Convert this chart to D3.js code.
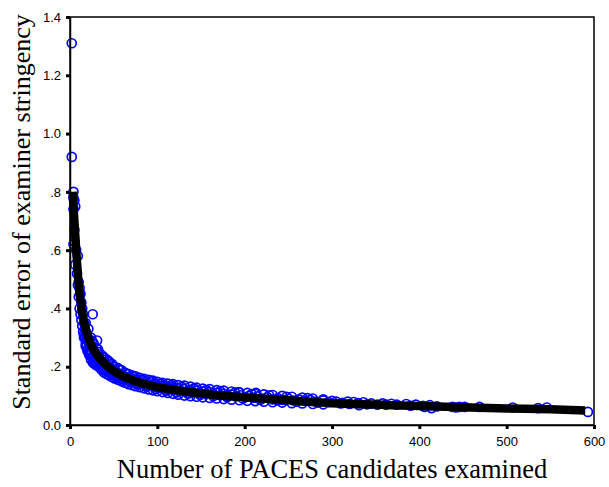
<!DOCTYPE html>
<html>
<head>
<meta charset="utf-8">
<script src="https://cdn.jsdelivr.net/npm/d3@7"></script>
<style>
  body { margin: 0; background: #fff; }
  svg { display: block; }
</style>
</head>
<body>
<script>
const width = 609;
const height = 487;

// examiners: [candidates examined, standard error of stringency]
const examiners = [
  [2,1.31],[2,0.92],[4,0.80],[4,0.78],[5,0.77],[4,0.74],[6,0.75],[5,0.67],[4,0.62],[5,0.63],
  [9,0.58],[7,0.60],[6,0.55],[8,0.52],[10,0.49],[9,0.48],[11,0.47],[12,0.45],[10,0.44],[13,0.42],
  [11,0.40],[14,0.40],[12,0.38],[15,0.38],[13,0.36],[16,0.35],[14,0.34],[17,0.33],[15,0.32],[18,0.32],
  [16,0.31],[19,0.30],[17,0.30],[20,0.29],[18,0.28],[21,0.29],[19,0.27],[22,0.28],[20,0.26],[23,0.26],
  [21,0.25],[24,0.27],[22,0.245],[26,0.38],[25,0.25],[27,0.24],[26,0.23],[28,0.25],[27,0.22],[29,0.23],
  [30,0.22],[31,0.29],[31,0.23],[32,0.21],[33,0.235],[34,0.21],[35,0.22],[36,0.20],[37,0.215],[38,0.195],
  [40,0.21],[40,0.19],[42,0.20],[43,0.185],[45,0.195],[46,0.18],[48,0.19],[49,0.175],[50,0.185],[52,0.17],
  [54,0.18],[55,0.165],[57,0.175],[58,0.16],[60,0.17],[62,0.155],[64,0.165],[66,0.152],[68,0.162],[70,0.148],
  [72,0.158],[74,0.145],[76,0.155],[78,0.142],[80,0.152],[82,0.14],[85,0.148],[87,0.136],[90,0.145],[92,0.134],
  [95,0.14],[97,0.13],[100,0.138],[103,0.127],[106,0.135],[108,0.125],[111,0.132],[114,0.122],[117,0.13],[120,0.12],
  [123,0.127],[126,0.117],[130,0.124],[133,0.115],[137,0.12],[140,0.112],[144,0.118],[148,0.11],[152,0.115],[156,0.108],
  [160,0.113],[164,0.105],[168,0.11],[172,0.103],[176,0.108],[180,0.10],[185,0.105],[190,0.098],[193,0.113],[195,0.102],
  [200,0.095],[205,0.1],[210,0.093],[213,0.11],[215,0.098],[220,0.091],[226,0.095],[232,0.088],[238,0.092],[244,0.086],
  [250,0.09],[256,0.084],[262,0.088],[268,0.083],[275,0.086],[282,0.08],[290,0.084],[296,0.078],[305,0.08],[312,0.076],
  [320,0.072],[325,0.079],[331,0.068],[336,0.078],[345,0.074],[352,0.07],[362,0.07],[368,0.073],[374,0.07],[385,0.072],
  [390,0.066],[396,0.07],[404,0.066],[406,0.062],[412,0.068],[414,0.058],[420,0.064],[438,0.062],[442,0.06],[446,0.062],
  [452,0.062],[469,0.062],[507,0.06],[536,0.058],[546,0.06],[593,0.045],
  // lower edge of the band
  [16,0.30],[18,0.27],[20,0.255],[22,0.24],[24,0.225],[26,0.215],[28,0.21],[30,0.205],[33,0.20],[36,0.19],
  [39,0.18],[42,0.175],[45,0.17],[48,0.165],[51,0.16],[55,0.155],[59,0.15],[63,0.145],[67,0.14],[71,0.137],
  [75,0.133],[80,0.13],[85,0.126],[90,0.122],[95,0.119],[100,0.116],[106,0.113],[112,0.11],[118,0.107],[124,0.104],
  [131,0.101],[138,0.099],[145,0.097],[152,0.095],[160,0.093],[168,0.091],[176,0.089],[185,0.087],[194,0.085],[203,0.083],
  [212,0.082],[222,0.08],[232,0.078],[243,0.077],[254,0.075],[266,0.074],[278,0.072],[290,0.071],
  // upper edge of the band
  [18,0.35],[21,0.33],[24,0.30],[27,0.28],[30,0.265],[33,0.25],[36,0.24],[39,0.23],[42,0.225],[45,0.215],
  [48,0.21],[51,0.20],[55,0.195],[59,0.188],[63,0.18],[67,0.175],[71,0.17],[75,0.167],[80,0.162],[85,0.158],
  [90,0.155],[95,0.152],[100,0.148],[106,0.145],[112,0.142],[118,0.14],[124,0.137],[131,0.135],[138,0.132],[145,0.128],
  [152,0.125],[160,0.123],[168,0.12],[176,0.118],[185,0.115],[194,0.112],[203,0.11],[212,0.108],[222,0.105],[232,0.103],
  [243,0.1],[254,0.097],[266,0.094],[278,0.091],[290,0.088],
  // filling between edges and fit
  [19,0.31],[23,0.245],[25,0.29],[29,0.215],[32,0.26],[35,0.205],[38,0.235],[41,0.185],[44,0.22],[47,0.175],
  [50,0.20],[53,0.165],[57,0.19],[61,0.157],[65,0.175],[69,0.147],[73,0.165],[77,0.14],[83,0.155],[88,0.132],
  [93,0.15],[98,0.124],[104,0.142],[110,0.118],[116,0.137],[122,0.112],[128,0.131],[135,0.107],[142,0.126],[149,0.103],
  [156,0.12],[164,0.099],[172,0.116],[180,0.095],[189,0.111],[198,0.091],[208,0.106],[218,0.087],[228,0.102],[238,0.084],
  [248,0.097],[260,0.08],[272,0.092],[284,0.077],[300,0.083],[310,0.074],[318,0.08],[330,0.075],[340,0.071],[358,0.074]
];

// fitted curve
const fitN  = [3, 5, 8, 10, 12, 15, 20, 25, 30, 40, 50, 60, 70, 80, 100, 120, 150, 175, 200, 250, 300, 350, 400, 450, 500, 550, 590];
const fitSE = [0.80, 0.70, 0.56, 0.48, 0.43, 0.37, 0.31, 0.27, 0.245, 0.21, 0.185, 0.168, 0.155, 0.145, 0.13, 0.12, 0.108, 0.10, 0.095, 0.085, 0.075, 0.07, 0.065, 0.061, 0.057, 0.054, 0.05];

const xTicks = [0, 100, 200, 300, 400, 500, 600];
const yTicks = [0, 0.2, 0.4, 0.6, 0.8, 1.0, 1.2, 1.4];

const margin = {top: 17, right: 15, bottom: 62, left: 70};

const x = d3.scaleLinear().domain([0, 600]).range([margin.left, width - margin.right]);
const y = d3.scaleLinear().domain([0, 1.4]).range([height - margin.bottom, margin.top]);

const fmtY = d => (d > 0 && d < 1) ? d3.format(".1f")(d).slice(1) : d3.format(".1f")(d);

const svg = d3.select("body").append("svg")
  .attr("width", width)
  .attr("height", height);

svg.append("rect")
  .attr("width", width)
  .attr("height", height)
  .attr("fill", "#fff");

// frame
svg.append("rect")
  .attr("x", x(0))
  .attr("y", y(1.4))
  .attr("width", x(600) - x(0))
  .attr("height", y(0) - y(1.4))
  .attr("fill", "none")
  .attr("stroke", "#000")
  .attr("stroke-width", 1.5);

// points
svg.append("g")
  .attr("fill", "none")
  .attr("stroke", "#0000ff")
  .attr("stroke-width", 1.7)
  .selectAll("circle")
  .data(examiners)
  .join("circle")
  .attr("cx", d => x(d[0]))
  .attr("cy", d => y(d[1]))
  .attr("r", 4.5);

// fit line
const line = d3.line()
  .x((d, i) => x(fitN[i]))
  .y(d => y(d))
  .curve(d3.curveMonotoneX);

svg.append("path")
  .datum(fitSE)
  .attr("fill", "none")
  .attr("stroke", "#000")
  .attr("stroke-width", 8.5)
  .attr("d", line);

// axes
const xAxis = svg.append("g")
  .attr("transform", `translate(0,${y(0)})`)
  .call(d3.axisBottom(x).tickValues(xTicks).tickSize(4).tickSizeOuter(0).tickPadding(8));

const yAxis = svg.append("g")
  .attr("transform", `translate(${x(0)},0)`)
  .call(d3.axisLeft(y).tickValues(yTicks).tickFormat(fmtY).tickSize(4).tickSizeOuter(0).tickPadding(5));

[xAxis, yAxis].forEach(g => {
  g.select(".domain").attr("stroke-width", 1.5);
  g.selectAll(".tick line").attr("stroke-width", 3);
  g.selectAll(".tick text")
    .attr("font-family", "'Liberation Sans', Arial, sans-serif")
    .attr("font-size", 13)
    .attr("fill", "#000");
});

svg.append("text")
  .attr("x", (x(0) + x(600)) / 2)
  .attr("y", 478)
  .attr("text-anchor", "middle")
  .attr("font-family", "'Liberation Serif', 'Times New Roman', serif")
  .attr("font-size", 26.5)
  .text("Number of PACES candidates examined");

svg.append("text")
  .attr("transform", "translate(30,212) rotate(-90)")
  .attr("text-anchor", "middle")
  .attr("font-family", "'Liberation Serif', 'Times New Roman', serif")
  .attr("font-size", 26)
  .text("Standard error of examiner stringency");
</script>
</body>
</html>
